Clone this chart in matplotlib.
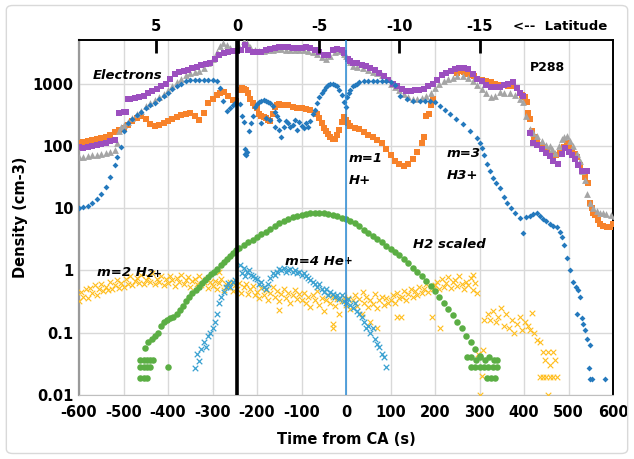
import matplotlib.pyplot as plt
from matplotlib.patches import FancyBboxPatch

plt.rcParams['font.family'] = ['DejaVu Sans']

# ---- data ----
lat_t = [-427, -243, -60, 120, 301]
lat_labels = ['5', '0', '-5', '-10', '-15']
lat0_t = -245

elec_t = [-600, -590, -580, -570, -560, -550, -540, -530, -520, -510, -500, -495, -490, -485, -475, -465, -455, -445,
          -435, -425, -415, -405, -395, -385, -375, -365, -355, -345, -335, -325, -315, -305, -295, -285, -275, -265,
          -255, -245, -235, -227, -220, -210, -200, -190, -180, -170, -160, -150, -140, -130, -120, -110, -100, -90,
          -80, -70, -60, -50, -40, -30, -20, -10, -5, 5, 10, 16, 25, 35, 45, 55, 65, 75, 85, 95, 105, 115, 125, 135,
          145, 155, 165, 175, 185, 195, 205, 215, 225, 235, 245, 255, 265, 275, 285, 295, 305, 315, 325, 335, 345,
          355, 365, 375, 385, 392, 398, 413, 420, 429, 440, 450, 458, 466, 476, 485, 492, 500, 508, 515, 522, 530,
          536, 541]
elec_n = [95, 92, 95, 100, 105, 108, 112, 118, 125, 340, 345, 350, 560, 570, 580, 600, 640, 700,
          760, 820, 900, 1000, 1200, 1400, 1550, 1600, 1650, 1750, 1850, 1950, 2050, 2150, 2500, 2900, 3100, 3200,
          3300, 3350, 3400, 4200, 3400, 3200, 3150, 3200, 3400, 3600, 3700, 3800, 3800, 3800, 3700, 3700, 3700, 3800,
          3700, 3500, 3200, 2900, 2850, 3500, 3600, 3400, 3100, 2500, 2300, 2150, 2100, 2000, 1900, 1750, 1650, 1450,
          1300, 1150, 1000, 900, 820, 770, 760, 780, 800, 820, 900, 1000, 1150, 1350, 1480, 1600, 1700, 1750, 1800,
          1700, 1400, 1200, 1100, 950, 880, 870, 870, 950, 1000, 1050, 850, 700, 630, 160, 112, 105, 89, 78, 69, 58,
          51, 75, 93, 80, 70, 62, 50, 40, 40, 40]

gray_t = [-600, -590, -580, -570, -560, -550, -540, -530, -520, -515, -510, -505, -500, -490, -480, -470, -460, -450,
          -440, -430, -420, -410, -400, -390, -380, -370, -360, -350, -340, -330, -320, -310, -300, -290, -283, -276,
          -268, -260, -250, -240, -230, -222, -215, -205, -195, -185, -175, -165, -155, -145, -135, -125, -115, -105,
          -95, -85, -75, -65, -55, -45, -35, -25, -15, -5, 0, 8, 15, 25, 39, 50, 60, 70, 80, 90, 100, 110, 120, 130,
          140, 150, 160, 170, 180, 190, 200, 210, 220, 230, 240, 250, 263, 275, 285, 295, 305, 315, 325, 335, 346,
          356, 368, 380, 390, 398, 405, 413, 421, 429, 440, 450, 458, 464, 470, 478, 485, 491, 497, 504, 511, 518,
          526, 531, 537, 541, 548, 555, 563, 571, 578, 585, 595, 604]
gray_n = [65, 66, 68, 70, 72, 75, 78, 80, 85, 110, 170, 200, 220, 240, 280, 320, 360, 430,
          480, 540, 610, 680, 780, 900, 1050, 1200, 1350, 1450, 1550, 1600, 1750, 2100, 2500, 3200, 4000, 4400,
          4200, 3700, 3500, 3800, 4900, 4400, 3800, 3500, 3300, 3300, 3400, 3500, 3600, 3600, 3500, 3500, 3400, 3500,
          3400, 3300, 3200, 3000, 2700, 2500, 2800, 3200, 3300, 3000, 2800, 2200, 1900, 1850, 1780, 1650, 1550, 1450,
          1350, 1200, 1000, 880, 780, 680, 600, 570, 560, 580, 630, 700, 850, 1000, 1100, 1200, 1250, 1300, 1320,
          1250, 1100, 950, 820, 700, 600, 620, 720, 700, 700, 650, 560, 500, 300, 185, 160, 145, 120, 105, 100, 88,
          78, 100, 130, 140, 145, 120, 100, 75, 58, 40, 28, 17, 12, 10, 9, 8.5, 8.3, 8.1, 7.8, 7.6]

hp_t = [-600, -590, -580, -570, -560, -550, -540, -530, -520, -510, -500, -490, -480, -470, -460, -450, -440, -430,
        -420, -410, -400, -390, -380, -370, -360, -350, -340, -330, -320, -310, -300, -290, -283, -275, -265, -255,
        -248, -238, -234, -230, -225, -220, -215, -210, -205, -200, -195, -190, -185, -180, -175, -170, -165, -160,
        -155, -150, -145, -140, -130, -120, -110, -100, -90, -80, -70, -65, -60, -55, -50, -45, -40, -35, -30, -25,
        -20, -15, -10, -5, 0, 5, 10, 20, 30, 40, 50, 60, 70, 80, 90, 100, 110, 120, 130, 140, 150, 160, 170, 175,
        180, 186, 190, 196, 250, 258, 265, 272, 280, 288, 295, 305, 315, 325, 335, 345, 355, 365, 375, 385, 395,
        402, 407, 410, 413, 418, 423, 429, 435, 442, 452, 458, 465, 472, 481, 489, 497, 502, 508, 514, 519, 526,
        533, 538, 544, 548, 552, 556, 560, 566, 571, 578, 586, 593, 600]
hp_n = [110, 115, 120, 125, 130, 135, 140, 150, 165, 180, 195, 215, 250, 280, 300, 270, 225, 210,
        220, 235, 250, 270, 290, 310, 330, 340, 300, 260, 340, 480, 560, 650, 710, 720, 630, 550,
        520, 800, 850, 830, 780, 700, 560, 480, 430, 410, 330, 300, 290, 280, 260, 250, 330, 420,
        460, 470, 460, 450, 450, 420, 410, 400, 390, 370, 340, 320, 280, 230, 195, 170, 155, 140, 130, 130,
        150, 180, 240, 290, 260, 230, 210, 195, 185, 165, 150, 140, 125, 110, 90, 72, 58, 52, 48, 52, 62, 80, 110, 140,
        300, 330, 450, 560, 1500, 1600, 1550, 1400, 1350, 1300, 1200, 1150, 1100, 1050, 1000, 950, 950, 900, 900, 850, 650,
        600, 500, 340, 270, 175, 140, 120, 105, 95, 83, 75, 69, 72, 78, 95, 112, 100, 89, 75, 65, 50,
        40, 32, 25, 12, 10, 8.5, 7.8, 6.5, 5.6, 5.2, 4.9, 5, 5.6]

h3_t = [-600, -590, -580, -570, -560, -550, -540, -530, -520, -515, -505, -500, -490, -480, -470, -460, -450, -440,
        -430, -420, -410, -400, -390, -380, -370, -360, -350, -340, -330, -320, -310, -300, -290, -283, -276, -268,
        -261, -255, -250, -238, -234, -230, -228, -226, -224, -222, -218, -214, -210, -205, -200, -195, -190, -185,
        -180, -175, -170, -165, -160, -155, -150, -190, -180, -170, -160, -150, -145, -140, -135, -130, -125, -120,
        -115, -110, -105, -100, -95, -90, -85, -80, -75, -70, -65, -60, -55, -50, -45, -40, -35, -30, -25, -20,
        -15, -10, -5, 0, 3, 6, 10, 15, 20, 25, 30, 40, 50, 60, 70, 80, 90, 100, 110, 121, 136, 150, 167, 178, 189,
        200, 211, 222, 233, 248, 263, 278, 294, 300, 305, 310, 316, 323, 330, 338, 346, 354, 362, 370, 380, 391,
        398, 405, 413, 421, 429, 436, 443, 450, 458, 466, 474, 480, 485, 490, 497, 503, 510, 516, 521, 526, 519,
        530, 533, 537, 542, 548, 546, 548, 552, 582]
h3_n = [10, 10.5, 11, 12, 14, 17, 22, 32, 50, 65, 95, 170, 230, 270, 310, 350, 400, 450,
        490, 560, 620, 700, 820, 920, 1000, 1100, 1150, 1150, 1150, 1150, 1130, 1120, 1080, 850, 520, 360,
        410, 450, 490, 470, 300, 240, 90, 75, 70, 80, 170, 230, 300, 420, 470, 500, 520, 540,
        530, 500, 480, 440, 350, 300, 260, 230, 280, 260, 200, 180, 140, 200, 250, 230, 200, 220,
        260, 180, 240, 210, 190, 230, 200, 250, 320, 380, 480, 600, 700, 800, 880, 950, 1000, 1000, 950, 900,
        800, 650, 500, 420, 600, 700, 800, 900, 950, 1000, 1050, 1080, 1100, 1100, 1100, 1100, 1080, 1050, 950, 630,
        560, 530, 525, 525, 525, 500, 435, 380, 325, 270, 225, 175, 135, 110, 93, 70, 51, 40, 31, 25, 21, 15, 12,
        10, 8.5, 7, 4, 7.3, 7.6, 8, 8.5, 7.5, 6.8, 6.2, 5.6, 5.2, 4.9, 4.2, 3.4, 2.6, 1.6, 1.0, 0.66, 0.55, 0.48,
        0.38, 0.2, 0.17, 0.14, 0.11, 0.08, 0.063, 0.027, 0.018, 0.018, 0.018]

h2s_t = [-463, -455, -447, -440, -434, -463, -455, -447, -440, -463, -455, -447, -400, -451, -444, -437, -430, -423,
         -416, -409, -402, -395, -388, -380, -373, -366, -359, -352, -345, -338, -331, -324, -317, -310, -303, -296,
         -289, -282, -275, -268, -261, -254, -247, -240, -230, -220, -210, -200, -190, -180, -170, -160, -150, -140,
         -130, -120, -110, -100, -90, -80, -70, -60, -50, -40, -30, -20, -10, 0, 10, 20, 30, 40, 50, 60, 70, 80, 90,
         100, 110, 120, 130, 140, 150, 160, 170, 180, 190, 200, 210, 220, 230, 240, 250, 260, 270, 280, 290, 300,
         272, 282, 292, 302, 312, 322, 332, 339, 280, 290, 300, 310, 320, 330, 339, 317, 325, 335]
h2s_n = [0.036, 0.036, 0.036, 0.036, 0.036, 0.028, 0.028, 0.028, 0.028, 0.019, 0.019, 0.019, 0.028, 0.056, 0.07,
         0.08, 0.09, 0.1, 0.13, 0.15, 0.16, 0.17, 0.18, 0.2, 0.23, 0.27, 0.32, 0.37, 0.43, 0.48, 0.55, 0.62, 0.7,
         0.78, 0.86, 0.93, 1.05, 1.2, 1.35, 1.5, 1.7, 1.9, 2.1, 2.3, 2.6, 2.85, 3.1, 3.4, 3.8, 4.2, 4.7, 5.2, 5.7,
         6.2, 6.7, 7.1, 7.5, 7.8, 8.1, 8.4, 8.5, 8.5, 8.3, 8.0, 7.7, 7.4, 7.0, 6.6, 6.2, 5.7, 5.1, 4.5, 4.0, 3.6,
         3.2, 2.9, 2.5, 2.2, 2.0, 1.8, 1.5, 1.3, 1.1, 0.95, 0.8, 0.68, 0.56, 0.46, 0.38, 0.3, 0.24, 0.19, 0.15,
         0.12, 0.09, 0.07, 0.055, 0.043, 0.04, 0.04, 0.036, 0.04, 0.036, 0.04, 0.036, 0.036, 0.028, 0.028, 0.028,
         0.028, 0.028, 0.028, 0.028, 0.019, 0.019, 0.019]

h2p_t = list(range(-600, 300, 5)) + [
    -285, -150, -29, -29, 55, 70, 114, 123, 193, 211, 286, 39,
    296, 301, 305, 308, 310, 318, 324, 330, 336, 342, 348, 354, 360, 366, 372, 378, 384, 390, 396, 402, 408,
    413, 418, 422, 429, 436, 443, 448, 454, 458, 465, 470, 436, 443, 450, 458, 466, 474, 454]
h2p_n = [0.32, 0.45, 0.38, 0.5, 0.36, 0.52, 0.44, 0.58, 0.41, 0.5, 0.6, 0.46, 0.55, 0.48, 0.66, 0.5, 0.58, 0.7, 0.52, 0.62,
         0.55, 0.72, 0.6, 0.8, 0.58, 0.68, 0.75, 0.62, 0.85, 0.6, 0.7, 0.78, 0.64, 0.9, 0.6, 0.72, 0.66, 0.82, 0.58, 0.74,
         0.62, 0.8, 0.7, 0.56, 0.76, 0.64, 0.84, 0.6, 0.7, 0.78, 0.55, 0.68, 0.74, 0.6, 0.82, 0.58, 0.66, 0.72, 0.52, 0.64,
         0.56, 0.68, 0.5, 0.62, 0.72, 0.48, 0.6, 0.55, 0.66, 0.46, 0.58, 0.5, 0.62, 0.44, 0.54, 0.6, 0.42, 0.5, 0.56, 0.4,
         0.45, 0.36, 0.52, 0.4, 0.48, 0.34, 0.44, 0.55, 0.38, 0.46, 0.32, 0.42, 0.5, 0.36, 0.44, 0.3, 0.4, 0.48, 0.35, 0.42,
         0.34, 0.44, 0.3, 0.38, 0.26, 0.4, 0.33, 0.46, 0.28, 0.36, 0.22, 0.34, 0.4, 0.3, 0.37, 0.27, 0.35, 0.2, 0.32, 0.38,
         0.28, 0.36, 0.24, 0.33, 0.4, 0.27, 0.35, 0.2, 0.3, 0.38, 0.26, 0.34, 0.29, 0.42, 0.25, 0.33, 0.38, 0.28, 0.36, 0.3,
         0.34, 0.4, 0.3, 0.44, 0.36, 0.38, 0.46, 0.33, 0.42, 0.5, 0.38, 0.46, 0.4, 0.55, 0.44, 0.5, 0.6, 0.45, 0.56, 0.5,
         0.58, 0.66, 0.5, 0.72, 0.55, 0.62, 0.78, 0.52, 0.64, 0.7, 0.56, 0.8, 0.6, 0.5, 0.66, 0.58, 0.75, 0.48, 0.62, 0.44,
         0.95, 0.23, 0.12, 0.14, 0.15, 0.12, 0.18, 0.18, 0.18, 0.12, 0.85, 0.45,
         0.045, 0.01, 0.02, 0.053, 0.16, 0.2, 0.16, 0.22, 0.15, 0.18, 0.25, 0.13, 0.2, 0.12, 0.16, 0.1, 0.14, 0.18,
         0.11, 0.15, 0.13, 0.11, 0.21, 0.1, 0.076, 0.07, 0.049, 0.036, 0.049, 0.03, 0.049, 0.036, 0.0195, 0.0195,
         0.0195, 0.0195, 0.0195, 0.0195, 0.01]

he_t = [-340, -335, -330, -325, -320, -315, -310, -305, -300, -295, -290, -285, -280, -275, -270, -265, -260, -255,
        -250, -238, -234, -230, -226, -222, -218, -214, -210, -205, -200, -195, -190, -185, -180, -175, -170, -165,
        -160, -155, -150, -145, -140, -135, -130, -125, -120, -115, -110, -105, -100, -95, -90, -85, -80, -75, -70,
        -65, -60, -55, -50, -45, -40, -35, -30, -25, -20, -15, -10, -5, 0, 5, 10, 15, 20, 25, 30, 35, 40, 45, 50,
        55, 60, 65, 70, 75, 80, 85, 90]
he_n = [0.027, 0.045, 0.035, 0.055, 0.07, 0.06, 0.09, 0.1, 0.12, 0.15, 0.2, 0.3, 0.37, 0.45, 0.55, 0.62, 0.55, 0.65,
        0.7, 1.2, 0.9, 1.1, 0.8, 0.95, 1.0, 0.85, 0.8, 0.75, 0.72, 0.6, 0.65, 0.55, 0.5, 0.6, 0.75, 0.9,
        0.85, 0.95, 1.05, 1.0, 1.1, 0.95, 1.0, 1.05, 0.95, 1.0, 0.9, 0.95, 0.85, 0.9, 0.8, 0.75, 0.7, 0.65, 0.6,
        0.55, 0.6, 0.5, 0.45, 0.5, 0.4, 0.45, 0.42, 0.38, 0.4, 0.35, 0.4, 0.32, 0.3, 0.35, 0.28, 0.25, 0.3, 0.22, 0.2,
        0.18, 0.15, 0.12, 0.13, 0.1, 0.12, 0.08, 0.065, 0.06, 0.045, 0.04, 0.028]

y_ticks = [0.01, 0.1, 1, 10, 100, 1000]
y_ticklabels = ['0.01', '0.1', '1', '10', '100', '1000']
x_ticks = list(range(-600, 601, 100))

# ---- figure ----
fig = plt.figure(figsize=(6.34, 4.59), dpi=100)
ax = fig.add_axes([79 / 634, 1 - 395 / 459, 534 / 634, 355 / 459])
fig.patches.append(FancyBboxPatch((0.01, 0.012), 0.98, 0.976, boxstyle='round,pad=0,rounding_size=0.01',
                                  transform=fig.transFigure, fill=False, edgecolor='#d9d9d9', lw=1))

ax.scatter(hp_t, hp_n, marker='s', s=20, color='#f7822a', linewidths=0, zorder=3)
ax.scatter(gray_t, gray_n, marker='^', s=24, color='#a5a5a5', linewidths=0, zorder=3)
ax.scatter(elec_t, elec_n, marker='s', s=20, color='#9c4fbf', linewidths=0, zorder=3)
ax.scatter(h3_t, h3_n, marker='D', s=9, color='#2479bd', linewidths=0, zorder=3)
ax.scatter(h2p_t, h2p_n, marker='x', s=16, color='#ffbe1e', linewidths=0.8, zorder=3)
ax.scatter(h2s_t, h2s_n, marker='o', s=22, color='#5bae44', linewidths=0, zorder=3)
ax.scatter(he_t, he_n, marker='x', s=16, color='#3aa1d1', linewidths=0.9, zorder=3)

ax.axvline(lat0_t, color='black', lw=2.6, zorder=4)
ax.axvline(0, color='#2a8bd6', lw=1.1, zorder=4)

ax.set_yscale('log')
ax.set_xlim(-600, 600)
ax.set_ylim(0.01, 5000)
ax.set_xticks(x_ticks)
ax.set_xticklabels([str(v) for v in x_ticks])
ax.set_yticks(y_ticks)
ax.set_yticklabels(y_ticklabels)
ax.minorticks_off()
ax.grid(True, color='#d9d9d9', lw=1, zorder=0)
ax.set_axisbelow(True)
ax.tick_params(length=0, labelsize=10.5, pad=4)
ax.tick_params(axis='x', pad=7)
for lab in ax.get_xticklabels() + ax.get_yticklabels():
    lab.set_fontweight('bold')

ax.spines['left'].set_color('#9a9a9a')
ax.spines['left'].set_linewidth(1.6)
ax.spines['bottom'].set_color('#bfbfbf')
ax.spines['top'].set_color('black')
ax.spines['top'].set_linewidth(1.4)
ax.spines['right'].set_color('black')
ax.spines['right'].set_linewidth(1.4)

ax.set_xlabel('Time from CA (s)', fontsize=10.5, fontweight='bold')
ax.xaxis.set_label_coords(0.5, -0.105)
ax.set_ylabel('Density (cm-3)', fontsize=10.5, fontweight='bold')
ax.yaxis.set_label_coords(-0.095, 0.5)

ax2 = ax.twiny()
ax2.set_xlim(ax.get_xlim())
ax2.set_xticks(lat_t)
ax2.set_xticklabels(lat_labels)
ax2.tick_params(direction='in', length=9, width=2, color='black', labelsize=10.5, pad=4)
for lab in ax2.get_xticklabels():
    lab.set_fontweight('bold')
for sp in ax2.spines.values():
    sp.set_visible(False)
fig.text(560 / 634, 1 - 27 / 459, '<--  Latitude', fontsize=9.5, fontweight='bold', ha='center', va='center')

# ---- annotations ----
lbl = dict(fontsize=9.5, fontweight='bold', fontstyle='italic', ha='left', va='center', zorder=5)
ax.text(-569, 1340, 'Electrons', **lbl)
ax.text(452, 1800, 'P288', fontsize=9, fontweight='bold', ha='center', va='center')
ax.text(5, 63, 'm=1', **lbl)
ax.text(5, 28, 'H+', **lbl)
ax.text(227, 76, 'm=3', **lbl)
ax.text(227, 34, 'H3+', **lbl)
ax.text(151, 2.56, 'H2 scaled', **lbl)
t1 = ax.text(-137, 1.37, 'm=4 He', **lbl)
ax.annotate('+', xy=(1, 0.15), xycoords=t1, fontsize=7.5, fontweight='bold', fontstyle='italic', va='bottom')
t2 = ax.text(-560, 0.91, 'm=2 H', **lbl)
ax.annotate('2+', xy=(1, 0.05), xycoords=t2, fontsize=7.5, fontweight='bold', fontstyle='italic', va='bottom')

fig.savefig('out.png', dpi=100)
